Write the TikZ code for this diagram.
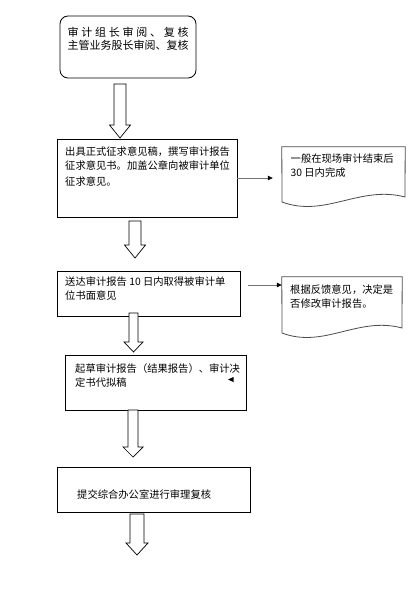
\documentclass[tikz,border=0pt]{standalone}
\usepackage{fontspec}
\newfontfamily\cjk{Noto Sans CJK SC}
\usetikzlibrary{arrows.meta}
\tikzset{
  box/.style={draw=black, line width=0.8pt, minimum width=#1, inner sep=0pt},
  ghost/.style={inner sep=0pt, minimum width=#1},
  txt/.style={anchor=north west, inner sep=0pt, align=left, font=\cjk\fontsize{10.3}{14}\selectfont},
  docline/.style={draw=black!70, line width=0.8pt},
  conn/.style={draw=black!55, line width=0.8pt, -{Triangle[length=5pt,width=4.5pt,fill=black,color=black]}},
  blockarrow/.style={draw=black, line width=0.7pt, fill=white}
}
\newcommand\hollowdown[6]{% cx, top, headstart, tip, shafthalf, headhalf
  \draw[blockarrow] (#1-#5,#2) -- (#1+#5,#2) -- (#1+#5,#3) -- (#1+#6,#3) -- (#1,#4) -- (#1-#6,#3) -- (#1-#5,#3) -- cycle;}
\begin{document}
\begin{tikzpicture}[x=1pt,y=-1pt]
\useasboundingbox[fill=white] (0,0) rectangle (413,602);

% box 1
\node[box=136pt, minimum height=62pt, rounded corners=8pt] (b1) at (128,47) {};
\node[txt, align=center, font=\cjk\fontsize{11}{13}\selectfont, anchor=north] (t1) at (128,26.5)
  {\makebox[11em][s]{审\hfil 计\hfil 组\hfil 长\hfil 审\hfil 阅\hfil 、\hfil 复\hfil 核}\\主管业务股长审阅、复核};

% box 2
\node[box=180pt, minimum height=78pt] (b2) at (147,178) {};
\node[txt] (t2) at (65,147) {出具正式征求意见稿，撰写审计报告\\征求意见书。加盖公章向被审计单位\\[2pt]征求意见。};

% box 3 (document)
\node[ghost=123pt, minimum height=58pt] (b3) at (343.5,176) {};
\draw[docline] (b3.north west) -- (b3.north east) -- (405,197)
  .. controls (360,185) and (325,218) .. (282,202) -- cycle;
\node[txt] (t3) at (290.5,154) {一般在现场审计结束后\\30 日内完成};

% box 4
\node[box=183pt, minimum height=45pt] (b4) at (148.5,293.5) {};
\node[txt] (t4) at (65,277) {送达审计报告 10 日内取得被审计单\\位书面意见};

% box 5 (document)
\node[ghost=120pt, minimum height=58pt] (b5) at (342,306) {};
\draw[docline] (b5.north west) -- (b5.north east) -- (402,328)
  .. controls (358,316) and (324,349) .. (282,333) -- cycle;
\node[txt] (t5) at (290,285) {根据反馈意见，决定是\\否修改审计报告。};

% box 6
\node[box=181pt, minimum height=55pt] (b6) at (155.5,382.5) {};
\node[txt] (t6) at (75,363) {起草审计报告（结果报告）、审计决\\定书代拟稿};
\fill[black] (228,379.5) -- (233.5,377) -- (233.5,382) -- cycle;

% box 7
\node[box=193pt, minimum height=45pt] (b7) at (153.5,489.5) {};
\node[txt] (t7) at (77,490) {提交综合办公室进行审理复核};

% connectors
\coordinate (c1) at (b2.east -| b3.west);
\draw[conn] (b2.east) -- ([xshift=-9pt]c1);
\coordinate (c2) at (248,285);
\draw[conn] (c2) -- (c2 -| b5.west);

% hollow arrows
\hollowdown{120}{84}{125}{138}{6}{10.5}
\hollowdown{135}{221}{245}{258}{6}{10.5}
\hollowdown{133.5}{313}{342}{352}{4.5}{9.5}
\hollowdown{133}{410}{447}{457}{5}{10}
\hollowdown{137}{514}{543}{555}{7}{11}
\end{tikzpicture}
\end{document}
